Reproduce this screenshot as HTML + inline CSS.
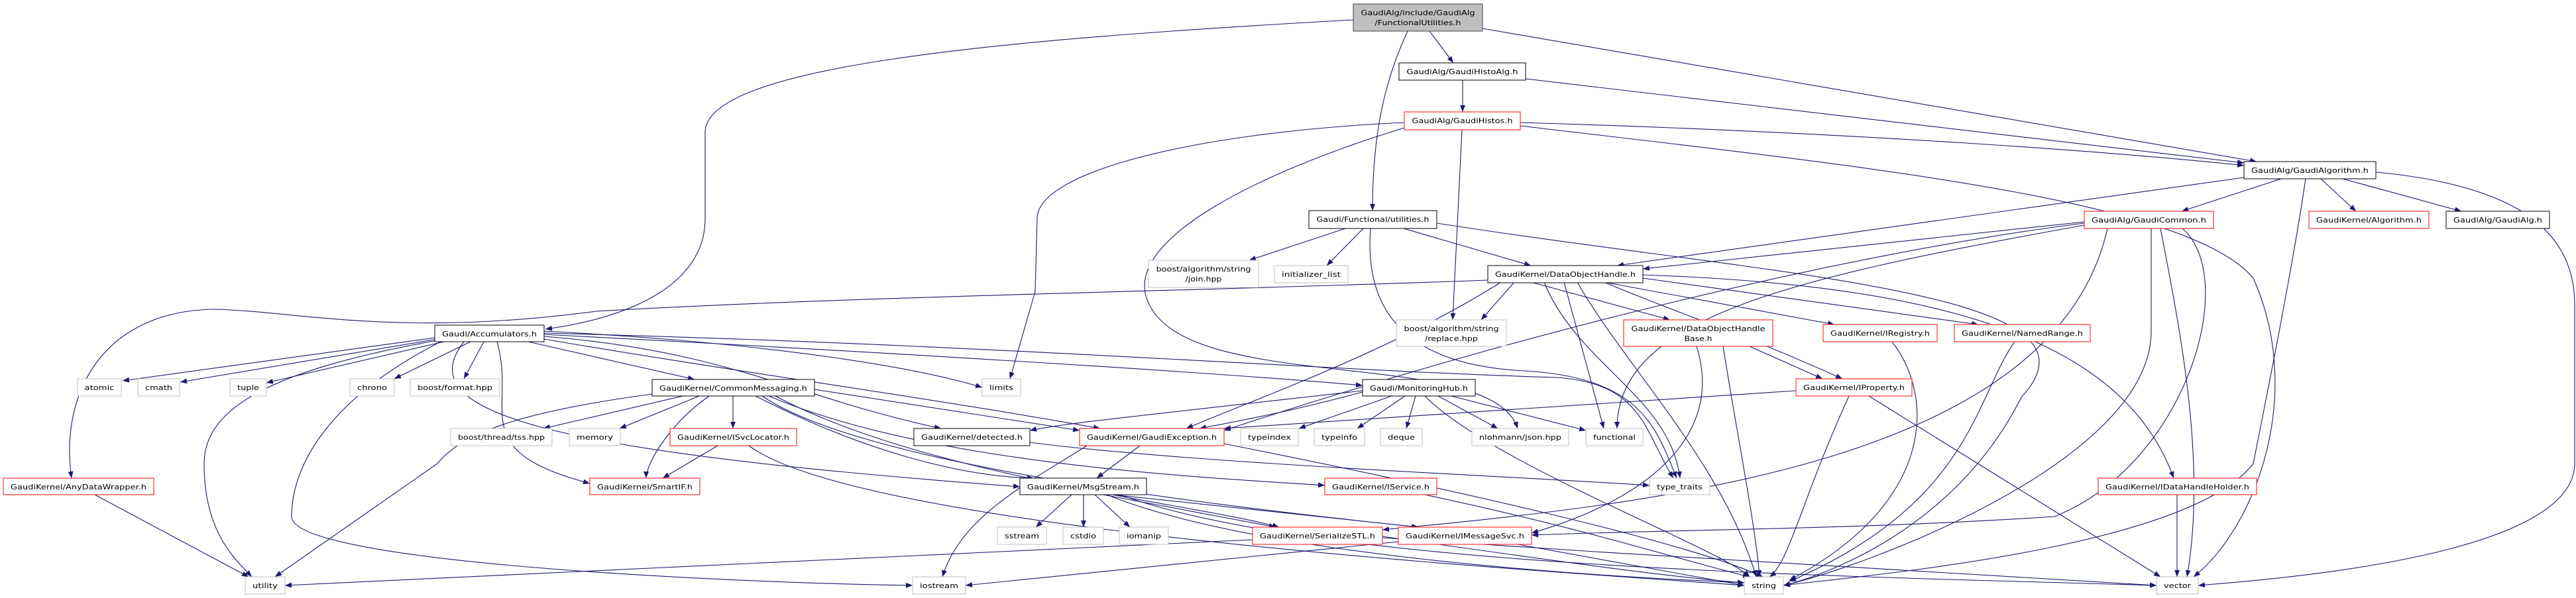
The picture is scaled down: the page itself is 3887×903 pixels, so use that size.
<!DOCTYPE html>
<html><head><meta charset="utf-8"><style>
html,body{margin:0;padding:0;background:#fff;width:3887px;height:903px;overflow:hidden}
svg text{font-family:"DejaVu Sans","Liberation Sans",sans-serif;font-size:10.5px;fill:#000}
.e{fill:none;stroke:#191970;stroke-width:1.1}
.b rect{fill:#fff;stroke:#000;stroke-width:1}
.g rect{fill:#fff;stroke:#bfbfbf;stroke-width:1}
.r rect{fill:#fff;stroke:#ff3030;stroke-width:1.2}
</style></head><body>
<svg width="3887" height="903" viewBox="0 0 3887 903" xmlns="http://www.w3.org/2000/svg">
<defs><marker id="a" markerUnits="userSpaceOnUse" markerWidth="11" markerHeight="8" refX="10" refY="4" orient="auto"><path d="M0,0 L10,4 L0,8 z" fill="#191970"/></marker></defs>
<g class="e" marker-end="url(#a)">
<path d="M2042,30 C1500,60 1064,100 1064,200 L1064,330 C1064,430 950,480 823,497"/>
<path d="M2157,47 L2193,95"/>
<path d="M2124,47 C2090,120 2071,200 2071,318"/>
<path d="M2237,43 L3405,244"/>
<path d="M2302,119 L3386,246"/>
<path d="M2207,121 L2207,169"/>
<path d="M2294,185 C2800,200 3200,230 3386,250"/>
<path d="M2119,185 C1800,200 1565,260 1565,330 L1562,440 L1524,572"/>
<path d="M2206,196 L2192,483"/>
<path d="M2294,190 C2800,250 3300,300 3400,420 C3480,600 3400,800 3310,871"/>
<path d="M2119,193 C1900,260 1700,360 1730,450 C1780,600 2250,520 2290,647"/>
<path d="M2030,345 L1885,393"/>
<path d="M2057,345 L2002,401"/>
<path d="M2118,345 L2310,401"/>
<path d="M2068,345 C2060,450 2100,550 2300,560 C2480,570 2500,650 2530,722"/>
<path d="M2168,337 C2700,420 3200,440 3050,600 C2950,800 2750,870 2691,884"/>
<path d="M3442,270 L3292,319"/>
<path d="M3502,270 L3555,319"/>
<path d="M3535,270 L3714,319"/>
<path d="M3386,268 L2440,401"/>
<path d="M3585,260 C3800,280 3885,350 3885,460 L3885,700 C3885,830 3500,870 3317,884"/>
<path d="M3479,270 C3460,400 3420,600 3400,700 C3300,830 2800,870 2691,884"/>
<path d="M3145,335 L2479,406"/>
<path d="M3145,337 C2800,380 2300,500 1847,650"/>
<path d="M3145,340 C2700,420 2440,480 2440,647"/>
<path d="M3246,345 L3246,500 C3246,700 2800,860 2691,884"/>
<path d="M3260,345 C3290,500 3330,700 3300,871"/>
<path d="M3293,345 C3380,420 3300,700 3100,780 C2800,800 2500,800 2311,808"/>
<path d="M3180,345 C3100,700 2500,760 2086,800"/>
<path d="M2245,423 C1800,440 1300,447 900,470 C600,510 450,470 323,467 C150,470 90,600 108,722"/>
<path d="M2285,426 L2235,483"/>
<path d="M2310,426 L2520,483"/>
<path d="M2420,426 L2768,490"/>
<path d="M2479,420 L2985,490"/>
<path d="M2420,426 C2550,480 2620,500 2780,572"/>
<path d="M2479,415 C2900,430 3200,500 3280,722"/>
<path d="M2265,426 C2100,530 1900,600 1790,647"/>
<path d="M2330,426 C2380,550 2520,600 2535,722"/>
<path d="M2360,426 L2420,647"/>
<path d="M2380,426 C2450,550 2600,700 2650,871"/>
<path d="M656,510 L185,575"/>
<path d="M660,512 L272,577"/>
<path d="M670,516 L402,578"/>
<path d="M710,516 L595,572"/>
<path d="M730,516 L700,572"/>
<path d="M797,516 L1048,573"/>
<path d="M660,514 C400,560 308,620 308,700 C308,800 350,840 380,871"/>
<path d="M665,516 C500,600 440,700 440,780 C440,850 1100,880 1377,884"/>
<path d="M750,516 C780,620 700,680 890,730"/>
<path d="M821,500 C1200,520 1400,560 1482,585"/>
<path d="M821,505 C1300,530 1800,560 2056,582"/>
<path d="M821,508 C1100,530 1200,600 1420,647"/>
<path d="M821,512 C1100,560 1400,600 1660,647"/>
<path d="M821,503 C1500,520 2000,560 2350,570 C2480,580 2480,650 2525,722"/>
<path d="M700,516 C620,620 800,680 1539,735"/>
<path d="M1030,598 L820,647"/>
<path d="M1055,598 L935,647"/>
<path d="M1106,598 L1106,647"/>
<path d="M1070,598 C1010,640 975,700 975,722"/>
<path d="M1229,588 L1629,650"/>
<path d="M1140,598 C1300,680 1450,720 1560,722"/>
<path d="M1150,598 C1300,700 1800,760 2140,796"/>
<path d="M1160,598 C1400,700 1800,720 1999,733"/>
<path d="M1170,598 C1400,720 1800,760 1930,796"/>
<path d="M984,595 C800,620 700,650 660,700 L415,871"/>
<path d="M1083,673 L1000,722"/>
<path d="M1130,673 C1300,800 2300,860 2632,884"/>
<path d="M143,747 L375,871"/>
<path d="M2056,590 C1700,630 1600,640 1554,650"/>
<path d="M2056,592 C1950,620 1900,630 1810,647"/>
<path d="M2100,598 L1960,647"/>
<path d="M2120,598 L2048,647"/>
<path d="M2136,598 L2122,647"/>
<path d="M2170,598 L2260,647"/>
<path d="M2190,598 L2393,650"/>
<path d="M2150,598 C2250,700 2600,830 2640,871"/>
<path d="M1554,668 C1800,700 2300,720 2489,733"/>
<path d="M1720,673 L1655,722"/>
<path d="M1640,673 C1550,730 1450,780 1422,871"/>
<path d="M1847,670 C2200,740 2550,820 2660,871"/>
<path d="M1617,747 L1563,796"/>
<path d="M1635,747 L1635,796"/>
<path d="M1652,747 L1705,796"/>
<path d="M1665,747 L1925,796"/>
<path d="M1680,747 L2140,796"/>
<path d="M1670,747 C1900,840 2400,870 2632,880"/>
<path d="M1690,747 C2000,860 2800,870 3254,884"/>
<path d="M2150,747 C2400,800 2550,850 2640,871"/>
<path d="M1890,815 L430,884"/>
<path d="M2086,810 C2300,840 2500,870 2632,880"/>
<path d="M2086,812 C2500,840 3000,870 3254,884"/>
<path d="M2110,818 L1457,884"/>
<path d="M2290,822 L2632,884"/>
<path d="M2710,590 L1847,647"/>
<path d="M2790,598 C2720,750 2700,850 2670,871"/>
<path d="M2820,598 L3260,871"/>
<path d="M2640,523 L2750,572"/>
<path d="M2560,523 C2600,650 2500,750 2311,805"/>
<path d="M2600,523 C2620,650 2650,800 2655,871"/>
<path d="M2855,516 C2920,600 2920,760 2700,876"/>
<path d="M3040,516 C2980,600 2975,760 2700,878"/>
<path d="M3285,747 L3285,871"/>
</g>
<g text-anchor="middle">
<g><rect x="2042" y="6" width="195" height="41" fill="#bfbfbf" stroke="#404040"/><text x="2139.5" y="23" textLength="172" lengthAdjust="spacingAndGlyphs">GaudiAlg/include/GaudiAlg</text><text x="2139.5" y="38" textLength="130" lengthAdjust="spacingAndGlyphs">/FunctionalUtilities.h</text></g>
<g class="b"><rect x="2111" y="95" width="191" height="26"/><text x="2206.5" y="112" textLength="168" lengthAdjust="spacingAndGlyphs">GaudiAlg/GaudiHistoAlg.h</text></g>
<g class="r"><rect x="2119" y="169" width="175" height="27"/><text x="2206.5" y="186" textLength="152" lengthAdjust="spacingAndGlyphs">GaudiAlg/GaudiHistos.h</text></g>
<g class="b"><rect x="1975" y="318" width="193" height="27"/><text x="2071.5" y="335" textLength="170" lengthAdjust="spacingAndGlyphs">Gaudi/Functional/utilities.h</text></g>
<g class="g"><rect x="1733" y="393" width="166" height="41"/><text x="1816" y="410" textLength="143" lengthAdjust="spacingAndGlyphs">boost/algorithm/string</text><text x="1816" y="425" textLength="55" lengthAdjust="spacingAndGlyphs">/join.hpp</text></g>
<g class="g"><rect x="1923" y="401" width="111" height="26"/><text x="1978.5" y="418" textLength="89" lengthAdjust="spacingAndGlyphs">initializer_list</text></g>
<g class="b"><rect x="2245" y="401" width="234" height="26"/><text x="2362" y="418" textLength="212" lengthAdjust="spacingAndGlyphs">GaudiKernel/DataObjectHandle.h</text></g>
<g class="b"><rect x="3386" y="244" width="199" height="26"/><text x="3485.5" y="261" textLength="177" lengthAdjust="spacingAndGlyphs">GaudiAlg/GaudiAlgorithm.h</text></g>
<g class="r"><rect x="3145" y="319" width="195" height="26"/><text x="3242.5" y="336" textLength="173" lengthAdjust="spacingAndGlyphs">GaudiAlg/GaudiCommon.h</text></g>
<g class="r"><rect x="3484" y="319" width="181" height="26"/><text x="3574.5" y="336" textLength="159" lengthAdjust="spacingAndGlyphs">GaudiKernel/Algorithm.h</text></g>
<g class="b"><rect x="3691" y="319" width="156" height="26"/><text x="3769" y="336" textLength="134" lengthAdjust="spacingAndGlyphs">GaudiAlg/GaudiAlg.h</text></g>
<g class="b"><rect x="656" y="491" width="165" height="25"/><text x="738.5" y="508" textLength="143" lengthAdjust="spacingAndGlyphs">Gaudi/Accumulators.h</text></g>
<g class="g"><rect x="117" y="572" width="66" height="26"/><text x="150" y="589" textLength="45" lengthAdjust="spacingAndGlyphs">atomic</text></g>
<g class="g"><rect x="208" y="572" width="63" height="26"/><text x="239.5" y="589" textLength="41" lengthAdjust="spacingAndGlyphs">cmath</text></g>
<g class="g"><rect x="347" y="572" width="55" height="26"/><text x="374.5" y="589" textLength="33" lengthAdjust="spacingAndGlyphs">tuple</text></g>
<g class="g"><rect x="528" y="572" width="67" height="26"/><text x="561.5" y="589" textLength="45" lengthAdjust="spacingAndGlyphs">chrono</text></g>
<g class="g"><rect x="619" y="572" width="135" height="26"/><text x="686.5" y="589" textLength="113" lengthAdjust="spacingAndGlyphs">boost/format.hpp</text></g>
<g class="b"><rect x="984" y="573" width="245" height="25"/><text x="1106.5" y="590" textLength="223" lengthAdjust="spacingAndGlyphs">GaudiKernel/CommonMessaging.h</text></g>
<g class="g"><rect x="680" y="647" width="153" height="26"/><text x="756.5" y="664" textLength="131" lengthAdjust="spacingAndGlyphs">boost/thread/tss.hpp</text></g>
<g class="g"><rect x="859" y="647" width="77" height="26"/><text x="897.5" y="664" textLength="55" lengthAdjust="spacingAndGlyphs">memory</text></g>
<g class="r"><rect x="1011" y="647" width="191" height="26"/><text x="1106.5" y="664" textLength="169" lengthAdjust="spacingAndGlyphs">GaudiKernel/ISvcLocator.h</text></g>
<g class="r"><rect x="5" y="722" width="227" height="25"/><text x="118.5" y="739" textLength="205" lengthAdjust="spacingAndGlyphs">GaudiKernel/AnyDataWrapper.h</text></g>
<g class="r"><rect x="890" y="722" width="166" height="25"/><text x="973" y="739" textLength="144" lengthAdjust="spacingAndGlyphs">GaudiKernel/SmartIF.h</text></g>
<g class="g"><rect x="370" y="871" width="60" height="26"/><text x="400" y="888" textLength="38" lengthAdjust="spacingAndGlyphs">utility</text></g>
<g class="g"><rect x="2107" y="483" width="166" height="40"/><text x="2190" y="500" textLength="143" lengthAdjust="spacingAndGlyphs">boost/algorithm/string</text><text x="2190" y="515" textLength="80" lengthAdjust="spacingAndGlyphs">/replace.hpp</text></g>
<g class="r"><rect x="2450" y="483" width="225" height="40"/><text x="2562.5" y="500" textLength="202" lengthAdjust="spacingAndGlyphs">GaudiKernel/DataObjectHandle</text><text x="2562.5" y="515" textLength="42" lengthAdjust="spacingAndGlyphs">Base.h</text></g>
<g class="g"><rect x="1482" y="572" width="58" height="26"/><text x="1511" y="589" textLength="36" lengthAdjust="spacingAndGlyphs">limits</text></g>
<g class="b"><rect x="2056" y="573" width="170" height="25"/><text x="2141" y="590" textLength="148" lengthAdjust="spacingAndGlyphs">Gaudi/MonitoringHub.h</text></g>
<g class="b"><rect x="1379" y="647" width="175" height="26"/><text x="1466.5" y="664" textLength="153" lengthAdjust="spacingAndGlyphs">GaudiKernel/detected.h</text></g>
<g class="r"><rect x="1629" y="647" width="218" height="26"/><text x="1738" y="664" textLength="196" lengthAdjust="spacingAndGlyphs">GaudiKernel/GaudiException.h</text></g>
<g class="g"><rect x="1872" y="647" width="87" height="26"/><text x="1915.5" y="664" textLength="65" lengthAdjust="spacingAndGlyphs">typeindex</text></g>
<g class="g"><rect x="1983" y="647" width="76" height="26"/><text x="2021" y="664" textLength="54" lengthAdjust="spacingAndGlyphs">typeinfo</text></g>
<g class="g"><rect x="2083" y="647" width="63" height="26"/><text x="2114.5" y="664" textLength="41" lengthAdjust="spacingAndGlyphs">deque</text></g>
<g class="g"><rect x="2221" y="647" width="146" height="26"/><text x="2294" y="664" textLength="124" lengthAdjust="spacingAndGlyphs">nlohmann/json.hpp</text></g>
<g class="g"><rect x="2393" y="647" width="86" height="26"/><text x="2436" y="664" textLength="64" lengthAdjust="spacingAndGlyphs">functional</text></g>
<g class="b"><rect x="1539" y="722" width="191" height="25"/><text x="1634.5" y="739" textLength="169" lengthAdjust="spacingAndGlyphs">GaudiKernel/MsgStream.h</text></g>
<g class="r"><rect x="1999" y="722" width="169" height="25"/><text x="2083.5" y="739" textLength="147" lengthAdjust="spacingAndGlyphs">GaudiKernel/IService.h</text></g>
<g class="g"><rect x="2489" y="722" width="91" height="25"/><text x="2534.5" y="739" textLength="69" lengthAdjust="spacingAndGlyphs">type_traits</text></g>
<g class="g"><rect x="1505" y="796" width="74" height="26"/><text x="1542" y="813" textLength="52" lengthAdjust="spacingAndGlyphs">sstream</text></g>
<g class="g"><rect x="1604" y="796" width="61" height="26"/><text x="1634.5" y="813" textLength="39" lengthAdjust="spacingAndGlyphs">cstdio</text></g>
<g class="g"><rect x="1689" y="796" width="74" height="26"/><text x="1726" y="813" textLength="52" lengthAdjust="spacingAndGlyphs">iomanip</text></g>
<g class="r"><rect x="1890" y="796" width="196" height="26"/><text x="1988" y="813" textLength="174" lengthAdjust="spacingAndGlyphs">GaudiKernel/SerializeSTL.h</text></g>
<g class="r"><rect x="2110" y="796" width="201" height="26"/><text x="2210.5" y="813" textLength="179" lengthAdjust="spacingAndGlyphs">GaudiKernel/IMessageSvc.h</text></g>
<g class="g"><rect x="1377" y="871" width="80" height="26"/><text x="1417" y="888" textLength="58" lengthAdjust="spacingAndGlyphs">iostream</text></g>
<g class="r"><rect x="2751" y="490" width="172" height="26"/><text x="2837" y="507" textLength="150" lengthAdjust="spacingAndGlyphs">GaudiKernel/IRegistry.h</text></g>
<g class="r"><rect x="2949" y="490" width="205" height="26"/><text x="3051.5" y="507" textLength="183" lengthAdjust="spacingAndGlyphs">GaudiKernel/NamedRange.h</text></g>
<g class="r"><rect x="2710" y="572" width="175" height="26"/><text x="2797.5" y="589" textLength="153" lengthAdjust="spacingAndGlyphs">GaudiKernel/IProperty.h</text></g>
<g class="r"><rect x="3166" y="722" width="239" height="25"/><text x="3285.5" y="739" textLength="217" lengthAdjust="spacingAndGlyphs">GaudiKernel/IDataHandleHolder.h</text></g>
<g class="g"><rect x="2632" y="871" width="59" height="26"/><text x="2661.5" y="888" textLength="37" lengthAdjust="spacingAndGlyphs">string</text></g>
<g class="g"><rect x="3254" y="871" width="63" height="26"/><text x="3285.5" y="888" textLength="41" lengthAdjust="spacingAndGlyphs">vector</text></g>
</g>
</svg>
</body></html>
